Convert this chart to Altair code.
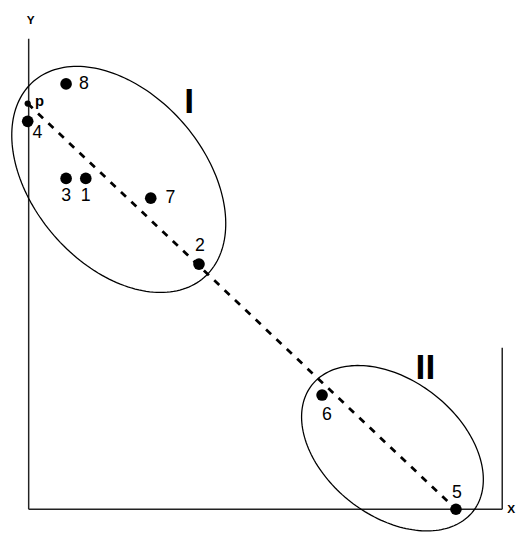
import numpy as np
import pandas as pd
import altair as alt

# points (data units)
labels = ["p", "4", "8", "3", "1", "7", "2", "6", "5"]
xs = [-1, -1, 38, 38, 58, 124, 173, 298, 434]
ys = [412, 394, 432, 336, 336, 316, 249, 116, 0]
kinds = ["small", "big", "big", "big", "big", "big", "big", "big", "big"]
label_dx = [12, 10, 18, 0, 0, 20, 1, 5, 1]
label_dy = [-3, 12, 0, 18, 18, 0, -18, 20, -16]

# dashed line endpoints (p -> 5)
line_x = [-1, 434]
line_y = [412, 0]

# cluster ellipses: centre, semi-axes, tilt (deg)
ell_names = ["I", "II"]
ell_cx = [91.5, 369.5]
ell_cy = [335, 62]
ell_a = [132, 104]
ell_b = [87, 69]
ell_angle = [-49, -38]
ell_label_x = [163, 403]
ell_label_y = [413, 143]

# axis frame segments
seg_x = [0, 0, 481]
seg_y = [0, 0, 0]
seg_x2 = [0, 481, 481]
seg_y2 = [478, 0, 164]

axis_titles = ["Y", "X"]
axis_title_x = [2, 486]
axis_title_y = [497, 0]
axis_title_align = ["center", "left"]

XS = alt.Scale(domain=[0, 481], zero=False, nice=False)
YS = alt.Scale(domain=[0, 478], zero=False, nice=False)

pts = pd.DataFrame({"x": xs, "y": ys, "label": labels, "kind": kinds,
                    "dx": label_dx, "dy": label_dy})

rows = []
for n, cx, cy, a, b, ang in zip(ell_names, ell_cx, ell_cy, ell_a, ell_b, ell_angle):
    t = np.linspace(0, 2 * np.pi, 181)
    r = np.deg2rad(ang)
    ex = cx + a * np.cos(t) * np.cos(r) - b * np.sin(t) * np.sin(r)
    ey = cy + a * np.cos(t) * np.sin(r) + b * np.sin(t) * np.cos(r)
    for i, (u, v) in enumerate(zip(ex, ey)):
        rows.append({"name": n, "x": u, "y": v, "o": i})
ell = pd.DataFrame(rows)

frame = pd.DataFrame({"x": seg_x, "y": seg_y, "x2": seg_x2, "y2": seg_y2})
dash = pd.DataFrame({"x": line_x, "y": line_y})
ell_lab = pd.DataFrame({"x": ell_label_x, "y": ell_label_y, "t": ell_names})
ax_lab = pd.DataFrame({"x": axis_title_x, "y": axis_title_y, "t": axis_titles,
                       "al": axis_title_align})

enc_x = alt.X("x:Q", scale=XS, axis=None)
enc_y = alt.Y("y:Q", scale=YS, axis=None)

frame_l = alt.Chart(frame).mark_rule(color="#222", strokeWidth=1.5).encode(
    x=enc_x, y=enc_y, x2="x2:Q", y2="y2:Q")

dash_l = alt.Chart(dash).mark_line(color="black", strokeWidth=2.8, strokeDash=[7, 7.5]).encode(
    x=enc_x, y=enc_y)

ell_l = alt.Chart(ell).mark_line(color="black", strokeWidth=1.3, clip=False).encode(
    x=enc_x, y=enc_y, detail="name:N", order="o:Q")

big = alt.Chart(pts).transform_filter("datum.kind == 'big'").mark_circle(
    color="black", opacity=1, size=140).encode(x=enc_x, y=enc_y)
small = alt.Chart(pts).transform_filter("datum.kind == 'small'").mark_circle(
    color="black", opacity=1, size=40).encode(x=enc_x, y=enc_y)

num_labels = []
for lab, dx, dy in zip(labels, label_dx, label_dy):
    is_p = lab == "p"
    num_labels.append(
        alt.Chart(pts).transform_filter(f"datum.label == '{lab}'").mark_text(
            dx=dx, dy=dy, font="Liberation Sans",
            fontSize=15 if is_p else 18,
            fontWeight="bold" if is_p else "normal",
            color="black", align="center", baseline="middle"
        ).encode(x=enc_x, y=enc_y, text="label:N")
    )

ell_text = alt.Chart(ell_lab).mark_text(
    font="Liberation Sans", fontSize=36, fontWeight="bold", color="black",
    align="center", baseline="middle").encode(x=enc_x, y=enc_y, text="t:N")

ax_texts = []
for t, al in zip(axis_titles, axis_title_align):
    ax_texts.append(
        alt.Chart(ax_lab).transform_filter(f"datum.t == '{t}'").mark_text(
            font="Liberation Sans", fontSize=12, fontWeight="bold", color="black",
            align=al, baseline="middle").encode(x=enc_x, y=enc_y, text="t:N")
    )

chart = alt.layer(frame_l, ell_l, dash_l, big, small, *num_labels, ell_text, *ax_texts).properties(
    width=481, height=478,
    autosize=alt.AutoSizeParams(type="none"),
    padding={"left": 21, "top": 27, "right": 15, "bottom": 20},
).configure_view(stroke=None)

chart.save("out.html", embed_options={"renderer": "svg", "actions": False})
